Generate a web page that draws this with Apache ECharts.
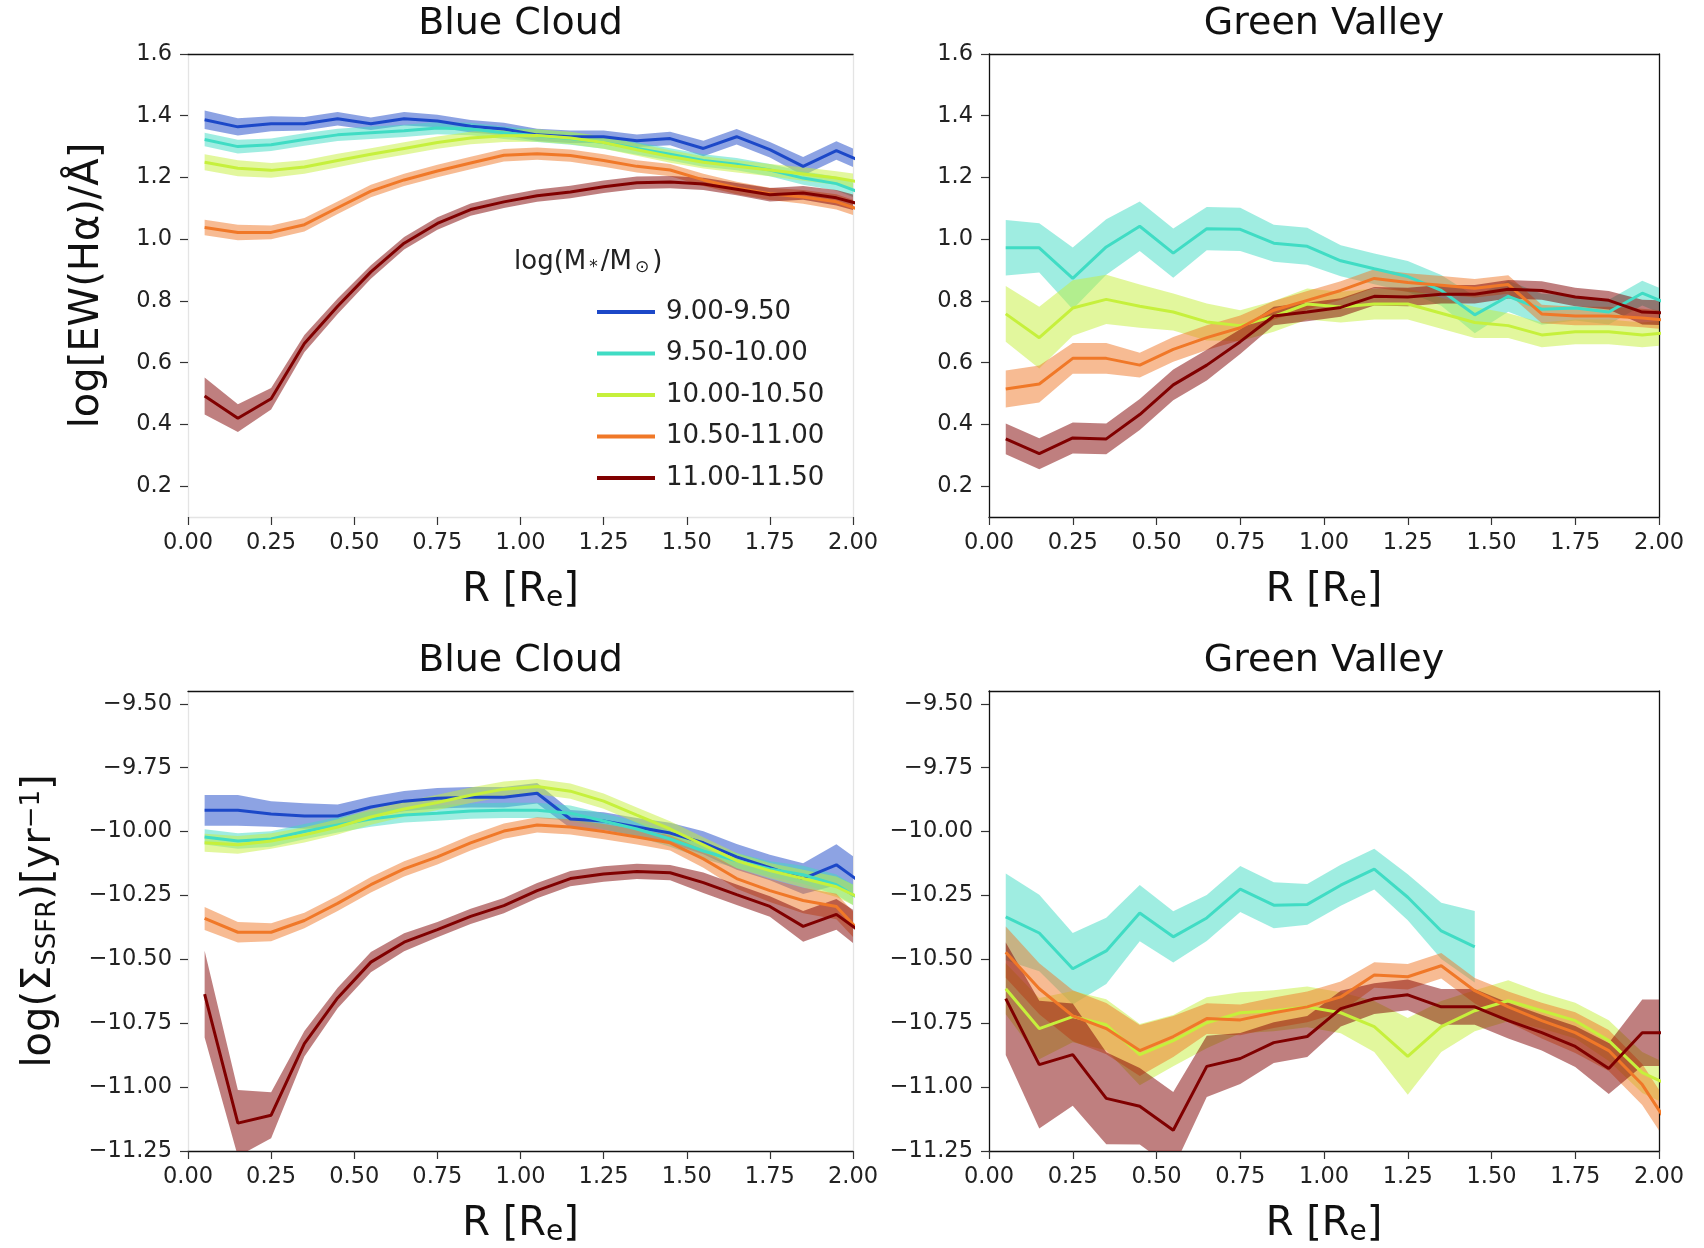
<!DOCTYPE html>
<html>
<head>
<meta charset="utf-8">
<script src="https://cdn.jsdelivr.net/npm/echarts@6/dist/echarts.min.js"></script>
<style>
  html, body { margin: 0; padding: 0; background: #fff; }
  #chart { width: 1704px; height: 1248px; }
</style>
</head>
<body>
<div id="chart"></div>
<script>
// Radial bins (in units of effective radius)
const radius = [0.05, 0.15, 0.25, 0.35, 0.45, 0.55, 0.65, 0.75, 0.85, 0.95, 1.05,
                1.15, 1.25, 1.35, 1.45, 1.55, 1.65, 1.75, 1.85, 1.95, 2.05];

// Stellar-mass bins
const massBins = ['9.00-9.50', '9.50-10.00', '10.00-10.50', '10.50-11.00', '11.00-11.50'];

// Tick labels
const rTicks = [0, 0.25, 0.5, 0.75, 1.0, 1.25, 1.5, 1.75, 2.0];
const ewTicks = [0.2, 0.4, 0.6, 0.8, 1.0, 1.2, 1.4, 1.6];
const ssfrTicks = [-11.25, -11.0, -10.75, -10.5, -10.25, -10.0, -9.75, -9.5];

// log EW(Halpha), Blue Cloud: median profiles and half-widths of the uncertainty band
const ewBlue_m1 = [1.387, 1.364, 1.374, 1.374, 1.390, 1.374, 1.390, 1.383, 1.366, 1.357, 1.338, 1.332, 1.332, 1.319, 1.326, 1.294, 1.332, 1.290, 1.236, 1.287, 1.241];
const ewBlue_m2 = [1.323, 1.300, 1.306, 1.323, 1.338, 1.345, 1.351, 1.360, 1.357, 1.345, 1.335, 1.326, 1.313, 1.294, 1.275, 1.255, 1.243, 1.224, 1.198, 1.180, 1.140];
const ewBlue_m3 = [1.249, 1.230, 1.223, 1.234, 1.255, 1.275, 1.294, 1.313, 1.328, 1.335, 1.336, 1.328, 1.313, 1.290, 1.268, 1.249, 1.236, 1.224, 1.211, 1.198, 1.180];
const ewBlue_m4 = [1.038, 1.022, 1.022, 1.047, 1.102, 1.156, 1.192, 1.221, 1.247, 1.272, 1.277, 1.271, 1.255, 1.236, 1.224, 1.192, 1.166, 1.147, 1.137, 1.121, 1.085];
const ewBlue_m5 = [0.492, 0.420, 0.483, 0.662, 0.783, 0.894, 0.987, 1.051, 1.096, 1.121, 1.141, 1.153, 1.170, 1.183, 1.185, 1.179, 1.162, 1.144, 1.150, 1.134, 1.105];
const ewBlueErr_m1 = [0.030, 0.028, 0.024, 0.022, 0.022, 0.020, 0.022, 0.020, 0.020, 0.020, 0.020, 0.020, 0.020, 0.020, 0.022, 0.025, 0.025, 0.025, 0.030, 0.030, 0.030];
const ewBlueErr_m2 = [0.022, 0.022, 0.020, 0.020, 0.020, 0.020, 0.020, 0.020, 0.020, 0.020, 0.020, 0.020, 0.020, 0.020, 0.020, 0.020, 0.020, 0.020, 0.022, 0.022, 0.025];
const ewBlueErr_m3 = [0.026, 0.026, 0.024, 0.022, 0.022, 0.020, 0.020, 0.020, 0.020, 0.020, 0.020, 0.020, 0.020, 0.020, 0.020, 0.020, 0.020, 0.020, 0.022, 0.022, 0.025];
const ewBlueErr_m4 = [0.025, 0.025, 0.022, 0.022, 0.020, 0.020, 0.020, 0.020, 0.020, 0.020, 0.020, 0.020, 0.020, 0.020, 0.020, 0.020, 0.020, 0.020, 0.022, 0.025, 0.025];
const ewBlueErr_m5 = [0.060, 0.045, 0.035, 0.028, 0.025, 0.022, 0.020, 0.020, 0.020, 0.020, 0.020, 0.020, 0.020, 0.020, 0.020, 0.020, 0.020, 0.022, 0.022, 0.025, 0.025];

// log EW(Halpha), Green Valley
const ewGreen_m2 = [0.972, 0.972, 0.873, 0.975, 1.042, 0.955, 1.034, 1.032, 0.987, 0.977, 0.930, 0.904, 0.879, 0.834, 0.755, 0.815, 0.773, 0.777, 0.764, 0.825, 0.780];
const ewGreen_m3 = [0.758, 0.681, 0.777, 0.805, 0.783, 0.764, 0.732, 0.720, 0.750, 0.790, 0.780, 0.790, 0.790, 0.760, 0.730, 0.720, 0.690, 0.700, 0.700, 0.690, 0.700];
const ewGreen_m4 = [0.515, 0.531, 0.614, 0.614, 0.592, 0.643, 0.681, 0.713, 0.770, 0.802, 0.834, 0.873, 0.860, 0.851, 0.841, 0.853, 0.758, 0.751, 0.751, 0.745, 0.735];
const ewGreen_m5 = [0.353, 0.305, 0.356, 0.353, 0.432, 0.528, 0.592, 0.668, 0.751, 0.764, 0.779, 0.815, 0.813, 0.822, 0.822, 0.838, 0.834, 0.813, 0.802, 0.764, 0.760];
const ewGreenErr_m2 = [0.090, 0.080, 0.100, 0.090, 0.080, 0.080, 0.070, 0.070, 0.060, 0.060, 0.050, 0.050, 0.050, 0.050, 0.060, 0.050, 0.050, 0.040, 0.040, 0.040, 0.040];
const ewGreenErr_m3 = [0.090, 0.100, 0.090, 0.080, 0.070, 0.060, 0.060, 0.050, 0.050, 0.050, 0.050, 0.050, 0.050, 0.050, 0.050, 0.040, 0.040, 0.040, 0.040, 0.040, 0.040];
const ewGreenErr_m4 = [0.060, 0.060, 0.050, 0.050, 0.040, 0.040, 0.040, 0.040, 0.030, 0.030, 0.030, 0.030, 0.030, 0.030, 0.030, 0.030, 0.030, 0.030, 0.030, 0.030, 0.030];
const ewGreenErr_m5 = [0.050, 0.050, 0.050, 0.050, 0.050, 0.050, 0.050, 0.040, 0.030, 0.030, 0.030, 0.030, 0.030, 0.030, 0.030, 0.030, 0.030, 0.030, 0.030, 0.040, 0.040];

// log Sigma_SSFR, Blue Cloud
const ssfrBlue_m1 = [-9.917, -9.917, -9.931, -9.939, -9.939, -9.904, -9.881, -9.870, -9.866, -9.866, -9.850, -9.951, -9.959, -9.982, -10.006, -10.044, -10.099, -10.141, -10.184, -10.130, -10.224];
const ssfrBlue_m2 = [-10.021, -10.037, -10.029, -10.000, -9.974, -9.951, -9.935, -9.928, -9.920, -9.917, -9.917, -9.928, -9.959, -9.990, -10.029, -10.076, -10.114, -10.146, -10.169, -10.208, -10.286];
const ssfrBlue_m3 = [-10.044, -10.052, -10.037, -10.013, -9.982, -9.943, -9.912, -9.886, -9.858, -9.834, -9.824, -9.842, -9.881, -9.936, -9.990, -10.052, -10.114, -10.153, -10.184, -10.216, -10.278];
const ssfrBlue_m4 = [-10.340, -10.394, -10.394, -10.348, -10.281, -10.208, -10.146, -10.099, -10.044, -9.998, -9.974, -9.982, -10.000, -10.021, -10.044, -10.107, -10.184, -10.231, -10.270, -10.293, -10.433];
const ssfrBlue_m5 = [-10.636, -11.141, -11.110, -10.830, -10.651, -10.511, -10.433, -10.384, -10.332, -10.290, -10.231, -10.184, -10.166, -10.156, -10.161, -10.200, -10.247, -10.293, -10.371, -10.324, -10.418];
const ssfrBlueErr_m1 = [0.060, 0.060, 0.050, 0.050, 0.045, 0.040, 0.040, 0.040, 0.040, 0.040, 0.040, 0.035, 0.035, 0.035, 0.040, 0.045, 0.050, 0.050, 0.060, 0.080, 0.080];
const ssfrBlueErr_m2 = [0.030, 0.030, 0.030, 0.030, 0.030, 0.030, 0.030, 0.030, 0.030, 0.030, 0.030, 0.030, 0.030, 0.030, 0.030, 0.030, 0.030, 0.030, 0.035, 0.040, 0.040];
const ssfrBlueErr_m3 = [0.035, 0.035, 0.030, 0.030, 0.030, 0.030, 0.030, 0.030, 0.030, 0.030, 0.030, 0.030, 0.030, 0.030, 0.030, 0.030, 0.030, 0.030, 0.035, 0.040, 0.040];
const ssfrBlueErr_m4 = [0.045, 0.040, 0.035, 0.030, 0.030, 0.030, 0.030, 0.030, 0.030, 0.030, 0.030, 0.030, 0.030, 0.030, 0.030, 0.035, 0.040, 0.045, 0.050, 0.050, 0.050];
const ssfrBlueErr_m5 = [0.170, 0.130, 0.090, 0.050, 0.040, 0.040, 0.035, 0.030, 0.030, 0.030, 0.030, 0.030, 0.030, 0.030, 0.030, 0.040, 0.040, 0.040, 0.060, 0.060, 0.070];

// log Sigma_SSFR, Green Valley (lowest-mass bin empty, next bin only to 1.45 Re)
const ssfrGreen_m2 = [-10.334, -10.397, -10.537, -10.467, -10.319, -10.412, -10.338, -10.225, -10.288, -10.285, -10.210, -10.147, -10.257, -10.389, -10.451];
const ssfrGreen_m3 = [-10.615, -10.771, -10.724, -10.756, -10.873, -10.818, -10.748, -10.709, -10.701, -10.686, -10.709, -10.763, -10.880, -10.763, -10.701, -10.662, -10.701, -10.740, -10.818, -10.943, -11.005];
const ssfrGreen_m4 = [-10.472, -10.615, -10.721, -10.771, -10.857, -10.802, -10.732, -10.737, -10.709, -10.686, -10.647, -10.561, -10.568, -10.525, -10.623, -10.686, -10.740, -10.787, -10.857, -10.990, -11.190];
const ssfrGreen_m5 = [-10.654, -10.912, -10.873, -11.044, -11.075, -11.169, -10.919, -10.888, -10.826, -10.802, -10.693, -10.654, -10.639, -10.686, -10.686, -10.740, -10.787, -10.841, -10.927, -10.787, -10.787];
const ssfrGreenErr_m2 = [0.170, 0.150, 0.140, 0.130, 0.110, 0.100, 0.090, 0.090, 0.090, 0.080, 0.080, 0.080, 0.090, 0.110, 0.140];
const ssfrGreenErr_m3 = [0.100, 0.120, 0.100, 0.100, 0.120, 0.100, 0.100, 0.080, 0.080, 0.080, 0.080, 0.100, 0.150, 0.100, 0.080, 0.080, 0.070, 0.070, 0.080, 0.080, 0.080];
const ssfrGreenErr_m4 = [0.100, 0.100, 0.100, 0.100, 0.100, 0.080, 0.060, 0.060, 0.060, 0.060, 0.060, 0.050, 0.050, 0.050, 0.050, 0.060, 0.070, 0.080, 0.080, 0.080, 0.080];
const ssfrGreenErr_m5 = [0.220, 0.250, 0.200, 0.180, 0.150, 0.150, 0.120, 0.100, 0.080, 0.080, 0.070, 0.060, 0.060, 0.070, 0.070, 0.070, 0.070, 0.080, 0.100, 0.130, 0.130];

// ---- styling ----
const FONT = 'DejaVu Sans';
const binColors = ['#1c48c8', '#40dcc4', '#c6f03c', '#f07828', '#800000'];
const SPINE_DARK = '#111';
const SPINE_FAINT = '#e4e4e4';
const TICK_FS = 22.5;
const NAME_FS = 40;

const panels = [
  { title: 'Blue Cloud', grid: { left: 188, top: 54, width: 665, height: 463 },
    ymin: 0.1, ymax: 1.6, ticks: ewTicks, fmt: v => v.toFixed(1),
    yName: 'log[EW(Hα)/Å]', yNameGap: 80,
    spines: { top: SPINE_DARK, bottom: SPINE_FAINT, left: SPINE_FAINT, right: SPINE_FAINT },
    curves: [[0, ewBlue_m1, ewBlueErr_m1], [1, ewBlue_m2, ewBlueErr_m2], [2, ewBlue_m3, ewBlueErr_m3],
             [3, ewBlue_m4, ewBlueErr_m4], [4, ewBlue_m5, ewBlueErr_m5]] },
  { title: 'Green Valley', grid: { left: 989, top: 54, width: 670, height: 463 },
    ymin: 0.1, ymax: 1.6, ticks: ewTicks, fmt: v => v.toFixed(1),
    spines: { top: SPINE_DARK, bottom: SPINE_DARK, left: SPINE_DARK, right: SPINE_DARK },
    curves: [[1, ewGreen_m2, ewGreenErr_m2], [2, ewGreen_m3, ewGreenErr_m3],
             [3, ewGreen_m4, ewGreenErr_m4], [4, ewGreen_m5, ewGreenErr_m5]] },
  { title: 'Blue Cloud', grid: { left: 188, top: 691, width: 665, height: 463 },
    ymin: -11.25, ymax: -9.45, ticks: ssfrTicks,
    fmt: v => (v < 0 ? '\u2212' : '') + Math.abs(v).toFixed(2),
    yName: 'log(Σ{sub|SSFR})[yr{sup|−1}]', yNameGap: 127,
    spines: { top: SPINE_DARK, bottom: SPINE_DARK, left: SPINE_FAINT, right: SPINE_FAINT },
    curves: [[0, ssfrBlue_m1, ssfrBlueErr_m1], [1, ssfrBlue_m2, ssfrBlueErr_m2], [2, ssfrBlue_m3, ssfrBlueErr_m3],
             [3, ssfrBlue_m4, ssfrBlueErr_m4], [4, ssfrBlue_m5, ssfrBlueErr_m5]] },
  { title: 'Green Valley', grid: { left: 989, top: 691, width: 670, height: 463 },
    ymin: -11.25, ymax: -9.45, ticks: ssfrTicks,
    fmt: v => (v < 0 ? '\u2212' : '') + Math.abs(v).toFixed(2),
    spines: { top: SPINE_DARK, bottom: SPINE_DARK, left: SPINE_DARK, right: SPINE_DARK },
    curves: [[1, ssfrGreen_m2, ssfrGreenErr_m2], [2, ssfrGreen_m3, ssfrGreenErr_m3],
             [3, ssfrGreen_m4, ssfrGreenErr_m4], [4, ssfrGreen_m5, ssfrGreenErr_m5]] }
];

// Shaded band between (value - err) and (value + err), drawn as one polygon in data coordinates
function bandSeries(xIdx, yIdx, vals, err, color) {
  const rows = vals.map((v, k) => [radius[k], v - err[k], v + err[k]]);
  return {
    type: 'custom', xAxisIndex: xIdx, yAxisIndex: yIdx, clip: true, silent: true, z: 1,
    data: rows,
    encode: { x: 0, y: [1, 2] },
    renderItem: function (params, api) {
      if (params.dataIndex !== 0) return null;
      const upper = rows.map(r => api.coord([r[0], r[2]]));
      const lower = rows.map(r => api.coord([r[0], r[1]])).reverse();
      return {
        type: 'polygon',
        shape: { points: upper.concat(lower) },
        style: { fill: color, opacity: 0.5 }
      };
    }
  };
}

const grids = [], xAxes = [], yAxes = [], series = [], graphics = [];

panels.forEach((p, i) => {
  grids.push(Object.assign({ containLabel: false }, p.grid));

  // bottom x axis (with ticks/labels) and top spine
  xAxes.push({
    gridIndex: i, type: 'value', min: 0, max: 2, interval: 0.25,
    axisLine: { show: true, onZero: false, lineStyle: { color: p.spines.bottom, width: 1.3 } },
    axisTick: { show: true, length: 8, lineStyle: { color: '#333', width: 1.2 } },
    axisLabel: { formatter: v => v.toFixed(2), fontSize: TICK_FS, color: '#222', fontFamily: FONT, margin: 15 },
    splitLine: { show: false },
    name: 'R [R{sub|e}]', nameLocation: 'middle', nameGap: 52,
    nameTextStyle: { fontSize: NAME_FS, color: '#111', fontFamily: FONT,
      rich: { sub: { fontSize: 28, fontFamily: FONT, color: '#111', verticalAlign: 'bottom', padding: [16, 0, 0, 0] } } }
  });
  xAxes.push({
    gridIndex: i, type: 'value', position: 'top', min: 0, max: 2,
    axisLine: { show: true, onZero: false, lineStyle: { color: p.spines.top, width: 1.3 } },
    axisTick: { show: false }, axisLabel: { show: false }, splitLine: { show: false }
  });

  // left y axis (with ticks/labels) and right spine
  const yMain = {
    gridIndex: i, type: 'value', min: p.ymin, max: p.ymax,
    axisLine: { show: true, onZero: false, lineStyle: { color: p.spines.left, width: 1.3 } },
    axisTick: { show: true, length: 8, customValues: p.ticks, lineStyle: { color: '#333', width: 1.2 } },
    axisLabel: { customValues: p.ticks, formatter: p.fmt, fontSize: TICK_FS, color: '#222', fontFamily: FONT, margin: 16 },
    splitLine: { show: false }
  };
  if (p.yName) {
    Object.assign(yMain, {
      name: p.yName, nameLocation: 'middle', nameGap: p.yNameGap, nameRotate: 90,
      nameTextStyle: { fontSize: NAME_FS, color: '#111', fontFamily: FONT,
        rich: {
          sub: { fontSize: 26, fontFamily: FONT, color: '#111', verticalAlign: 'bottom', padding: [14, 0, 0, 0] },
          sup: { fontSize: 26, fontFamily: FONT, color: '#111', verticalAlign: 'top', padding: [0, 0, 16, 0] }
        } }
    });
  }
  yAxes.push(yMain);
  yAxes.push({
    gridIndex: i, type: 'value', position: 'right', min: p.ymin, max: p.ymax,
    axisLine: { show: true, onZero: false, lineStyle: { color: p.spines.right, width: 1.3 } },
    axisTick: { show: false }, axisLabel: { show: false }, splitLine: { show: false }
  });

  // shaded uncertainty bands first, then median lines on top
  p.curves.forEach(([bin, vals, err]) => {
    series.push(bandSeries(2 * i, 2 * i, vals, err, binColors[bin]));
  });
  p.curves.forEach(([bin, vals]) => {
    series.push({
      name: massBins[bin], type: 'line', xAxisIndex: 2 * i, yAxisIndex: 2 * i,
      data: vals.map((v, k) => [radius[k], v]),
      symbol: 'none', z: 3, clip: true,
      lineStyle: { color: binColors[bin], width: 3 },
      itemStyle: { color: binColors[bin] }
    });
  });

  graphics.push({
    type: 'text', x: p.grid.left + p.grid.width / 2, y: p.grid.top - 30,
    style: { text: p.title, font: '38px "' + FONT + '"', fill: '#111', textAlign: 'center', textVerticalAlign: 'middle' }
  });
});

// legend heading
graphics.push({
  type: 'text', x: 514, y: 262, z: 10,
  style: {
    text: 'log(M{s|*}/M{s|⊙})', fill: '#222', textVerticalAlign: 'middle',
    font: '26px "' + FONT + '"',
    rich: { s: { fontSize: 17, fontFamily: FONT, fill: '#222', verticalAlign: 'bottom', padding: [11, 3, 0, 3] } }
  }
});

const chart = echarts.init(document.getElementById('chart'), null, { renderer: 'canvas' });
chart.setOption({
  backgroundColor: '#ffffff',
  animation: false,
  textStyle: { fontFamily: FONT },
  grid: grids,
  xAxis: xAxes,
  yAxis: yAxes,
  legend: {
    data: massBins, orient: 'vertical', left: 592, top: 294,
    icon: 'rect', itemWidth: 58, itemHeight: 4, itemGap: 15.5, selectedMode: false,
    textStyle: { fontSize: 26, color: '#222', fontFamily: FONT, padding: [0, 0, 0, 6] }
  },
  graphic: graphics,
  series: series
});
</script>
</body>
</html>
